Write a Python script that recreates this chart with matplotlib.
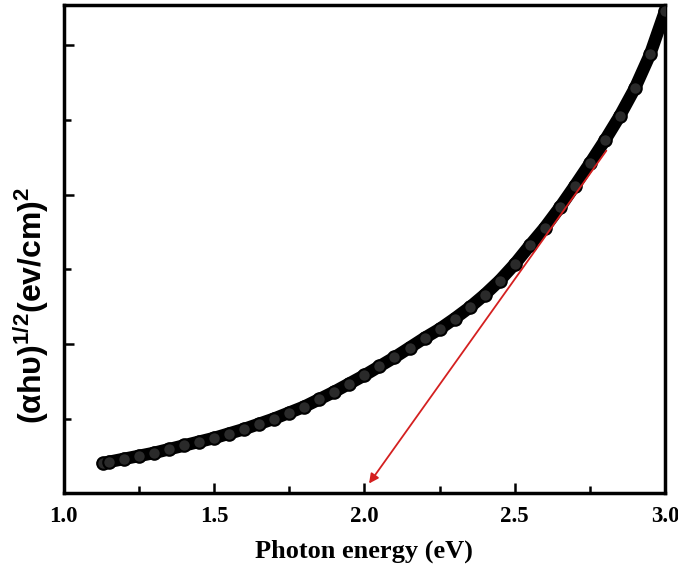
import matplotlib.pyplot as plt

plt.rcParams['mathtext.fontset'] = 'custom'
plt.rcParams['mathtext.bf'] = 'Liberation Sans:bold'
plt.rcParams['mathtext.rm'] = 'Liberation Sans:bold'

# values (arbitrary y units)
energy = [1.13, 1.15, 1.20, 1.25, 1.30, 1.35, 1.40, 1.45, 1.50, 1.55, 1.60, 1.65,
          1.70, 1.75, 1.80, 1.85, 1.90, 1.95, 2.00, 2.05, 2.10, 2.15, 2.20, 2.25,
          2.30, 2.35, 2.40, 2.45, 2.50, 2.55, 2.60, 2.65, 2.70, 2.75, 2.80, 2.85,
          2.90, 2.95, 3.00]
tauc = [0.20, 0.21, 0.23, 0.25, 0.27, 0.295, 0.32, 0.345, 0.37, 0.40, 0.43, 0.465,
        0.50, 0.54, 0.58, 0.63, 0.68, 0.735, 0.79, 0.85, 0.91, 0.975, 1.04, 1.10,
        1.17, 1.245, 1.33, 1.425, 1.535, 1.66, 1.78, 1.915, 2.06, 2.21, 2.365, 2.53,
        2.715, 2.94, 3.23]

# tangent (extrapolation) line, start and end
fit_x = [2.81, 2.01]
fit_y = [2.31, 0.05]

xticks = [1.0, 1.5, 2.0, 2.5, 3.0]
xticklabels = ['1.0', '1.5', '2.0', '2.5', '3.0']
xminor = [1.25, 1.75, 2.25, 2.75]
yticks = [1.0, 2.0, 3.0]
yminor = [0.5, 1.5, 2.5]

fig = plt.figure(figsize=(6.78, 5.65), dpi=100)
ax = fig.add_axes([0.094, 0.127, 0.887, 0.864])

ax.plot(energy, tauc, color='black', lw=9, solid_capstyle='round', zorder=2)
ax.plot(energy, tauc, 'o', ms=9, mfc='#2a2a2a', mec='black', mew=1.5, zorder=3)

ax.annotate('', xy=(fit_x[1], fit_y[1]), xytext=(fit_x[0], fit_y[0]),
            arrowprops=dict(arrowstyle='-|>', color='#d42020', lw=1.3,
                            mutation_scale=14), zorder=4)

ax.set_xlim(1.0, 3.0)
ax.set_ylim(0, 3.27)
ax.set_xticks(xticks)
ax.set_xticks(xminor, minor=True)
ax.set_yticks(yticks)
ax.set_yticks(yminor, minor=True)
ax.tick_params(which='both', direction='in', width=1.8, top=False, right=False)
ax.tick_params(which='major', length=7, pad=9)
ax.tick_params(which='minor', length=5)
ax.set_yticklabels([])
ax.set_xticklabels(xticklabels, fontfamily='Liberation Serif',
                   fontweight='bold', fontsize=16.5)
for s in ax.spines.values():
    s.set_linewidth(2.5)

ax.set_xlabel('Photon energy (eV)', fontfamily='Liberation Serif',
              fontweight='bold', fontsize=19, labelpad=9)
ax.set_ylabel(r'(αhυ)$^{\mathbf{1/2}}$(ev/cm)$^{\mathbf{2}}$',
              fontfamily='Liberation Sans', fontweight='bold', fontsize=23)
ax.yaxis.set_label_coords(-0.022, 0.385)

fig.savefig('out.png', dpi=100)
